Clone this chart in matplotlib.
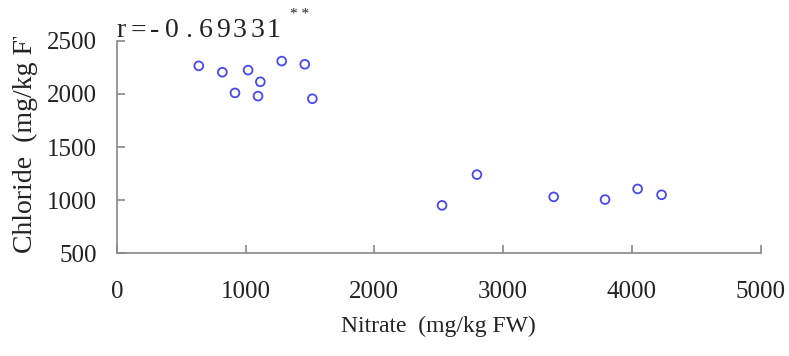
import matplotlib.pyplot as plt
from matplotlib.transforms import Bbox, TransformedBbox

nitrate = [637, 820, 918, 1020, 1115, 1097, 1281, 1460, 1519,
           2526, 2797, 3393, 3792, 4045, 4231]
chloride = [2265, 2205, 2010, 2225, 2115, 1980, 2310, 2280, 1955,
            950, 1240, 1030, 1005, 1105, 1050]
x_ticks = [0, 1000, 2000, 3000, 4000, 5000]
y_ticks = [500, 1000, 1500, 2000, 2500]
r_text = 'r=-0.69331'

plt.rcParams['font.family'] = ['Liberation Serif', 'DejaVu Serif']

fig = plt.figure(figsize=(7.89, 3.56), dpi=100)
ax = fig.add_axes([0.148, 0.289, 0.816, 0.596])

ax.scatter(nitrate, chloride, s=40, facecolors='none', edgecolors='#4848f0', linewidths=1.3, zorder=3)

ax.set_xlim(0, 5000)
ax.set_ylim(500, 2500)
ax.set_xticks(x_ticks)
ax.set_yticks(y_ticks)

for side in ['top', 'right']:
    ax.spines[side].set_visible(False)
for side in ['left', 'bottom']:
    ax.spines[side].set_color('#888888')
    ax.spines[side].set_linewidth(1.2)

ax.tick_params(axis='both', direction='in', length=6, width=1.2, color='#888888',
               labelsize=18, labelcolor='#222222')
ax.tick_params(axis='x', pad=20)
ax.tick_params(axis='y', pad=14)

ax.set_xlabel('Nitrate  (mg/kg FW)', fontsize=17, color='#222222', labelpad=9)
ylab = ax.set_ylabel('Chloride  (mg/kg FW)', fontsize=20, color='#222222', labelpad=7,
                     loc='bottom')
# the label box is cut off just above the plot top
ylab.set_clip_box(TransformedBbox(Bbox([[0, 0], [1, 0.897]]), fig.transFigure))
ylab.set_clip_on(True)

# correlation coefficient, widely spaced characters
for i, ch in enumerate(r_text):
    fig.text((121 + 17 * i) / 789, 0.913, ch, fontsize=20, color='#222222',
             ha='center', va='center')
fig.text(0.367, 0.958, '* *', fontsize=11, color='#222222', va='center')

fig.savefig('out.png', dpi=100)
